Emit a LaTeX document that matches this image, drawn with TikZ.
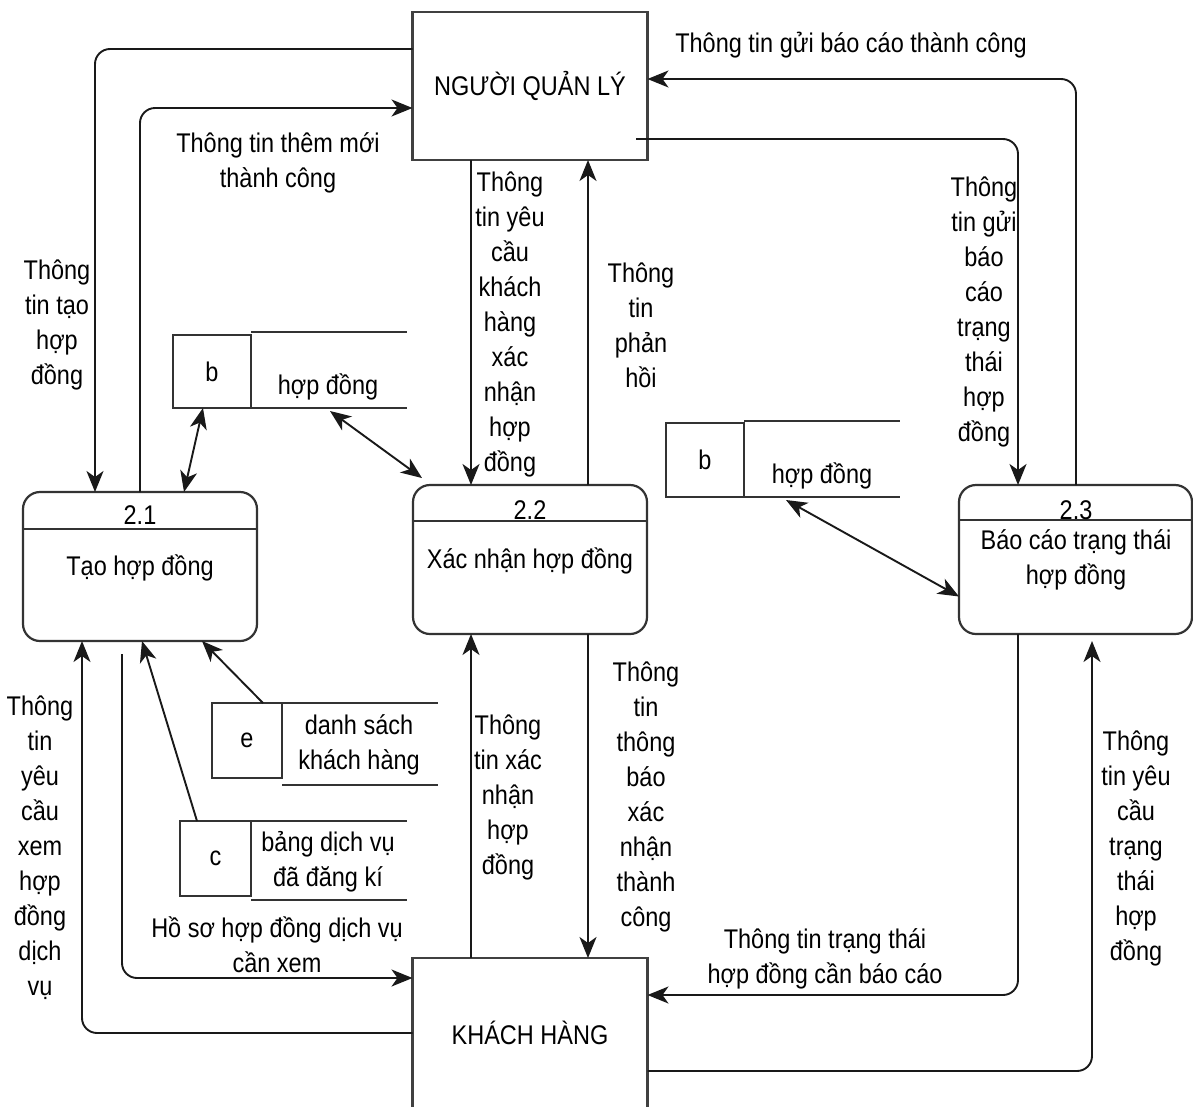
\documentclass[tikz,border=0pt]{standalone}
\usepackage{fontspec}
\setmainfont{Liberation Sans}[FakeStretch=0.87]
\usetikzlibrary{arrows.meta}
\begin{document}
\begin{tikzpicture}[x=1pt,y=-1pt,
  every node/.style={inner sep=0pt, outer sep=0pt, font=\fontsize{27}{35}\selectfont, text=black},
  entity/.style={draw=black!75, line width=2.2pt, minimum width=235pt, minimum height=148pt},
  procbox/.style={draw=black!80, line width=2.2pt, rounded corners=17pt, minimum width=234pt, minimum height=149pt},
  divider/.style={draw=black!80, line width=2.2pt},
  storekey/.style={draw=black!80, line width=2.2pt},
  storeline/.style={draw=black!80, line width=2.2pt},
  tip/.tip={Stealth[length=21pt,width=17pt,inset=6pt]},
  flow/.style={draw=black!90, line width=1.9pt, rounded corners=15pt, -tip},
  twoway/.style={draw=black!90, line width=1.9pt, tip-tip},
  lbl/.style={align=center},
]
\useasboundingbox[fill=white] (0,0) rectangle (1193,1106);

% external entities
\node[entity] (nql) at (530,86) {NGƯỜI QUẢN LÝ};
\node[entity, minimum height=150pt] (kh) at (530,1033) {KHÁCH HÀNG};

% processes
\node[procbox] (p21) at (140,566.5) {};
\draw[divider] ([yshift=-37pt]p21.north west) -- ([yshift=-37pt]p21.north east);
\node (n21) at (140,515) {2.1};
\node (t21) at (140,568) {Tạo hợp đồng};

\node[procbox] (p22) at (530,559.5) {};
\draw[divider] ([yshift=-36pt]p22.north west) -- ([yshift=-36pt]p22.north east);
\node (n22) at (530,510) {2.2};
\node (t22) at (530,561) {Xác nhận hợp đồng};

\node[procbox, minimum width=233pt] (p23) at (1075.5,559.5) {};
\draw[divider] ([yshift=-35pt]p23.north west) -- ([yshift=-35pt]p23.north east);
\node (n23) at (1076,510) {2.3};
\node[lbl] (t23) at (1076,560) {Báo cáo trạng thái\\hợp đồng};

% data stores
\node[storekey, minimum width=78pt, minimum height=73pt] (sb1) at (212,371.5) {b};
\draw[storeline] (251,332) -- (407,332);
\draw[storeline] (251,408) -- (407,408);
\node (sb1t) at (328,387) {hợp đồng};

\node[storekey, minimum width=78pt, minimum height=74pt] (sb2) at (705,460) {b};
\draw[storeline] (744,421) -- (900,421);
\draw[storeline] (744,497) -- (900,497);
\node (sb2t) at (822,476) {hợp đồng};

\node[storekey, minimum width=70pt, minimum height=75pt] (se) at (247,740.5) {e};
\draw[storeline] (282,703) -- (438,703);
\draw[storeline] (282,785) -- (438,785);
\node[lbl] (set) at (359,745) {danh sách\\khách hàng};

\node[storekey, minimum width=71pt, minimum height=75pt] (sc) at (215.5,858.5) {c};
\draw[storeline] (251,821) -- (407,821);
\draw[storeline] (251,900) -- (407,900);
\node[lbl] (sct) at (328,862) {bảng dịch vụ\\đã đăng kí};

% bend points
\coordinate (k1) at (95,49);
\coordinate (k2) at (140,108);
\coordinate (k3s) at (636,139);
\coordinate (k3) at (1018,139);
\coordinate (k4) at (1076,79);
\coordinate (k5) at (1018,995);
\coordinate (k6) at (1092,1071);
\coordinate (k6e) at (1092,641);
\coordinate (k7) at (471,0);
\coordinate (k8) at (588,0);
\coordinate (k11) at (82,1033);
\coordinate (k12s) at (122,654);
\coordinate (k12) at (122,978);
\coordinate (k16s) at (330,411);
\coordinate (k17s) at (786,500);

% data flows
\draw[flow] (nql.west |- k1) -- (k1) -- (k1 |- p21.north);
\draw[flow] (k2 |- p21.north) -- (k2) -- (k2 -| nql.west);
\draw[flow] (k3s) -- (k3) -- (k3 |- p23.north);
\draw[flow] (k4 |- p23.north) -- (k4) -- (k4 -| nql.east);
\draw[flow] (k5 |- p23.south) -- (k5) -- (k5 -| kh.east);
\draw[flow] (k6 -| kh.east) -- (k6) -- (k6e);
\draw[flow] (k7 |- nql.south) -- (k7 |- p22.north);
\draw[flow] (k8 |- p22.north) -- (k8 |- nql.south);
\draw[flow] (k7 |- kh.north) -- (k7 |- p22.south);
\draw[flow] (k8 |- p22.south) -- (k8 |- kh.north);
\draw[flow] (k11 -| kh.west) -- (k11) -- (k11 |- p21.south);
\draw[flow] (k12s) -- (k12) -- (k12 -| kh.west);
\draw[flow] ([xshift=17pt]sc.north west) -- ([xshift=119pt]p21.south west);
\draw[flow] ([xshift=51pt]se.north west) -- ([xshift=179pt]p21.south west);
\draw[twoway] ([xshift=30pt]sb1.south west) -- ([xshift=161pt]p21.north west);
\draw[twoway] (k16s) -- ([shift={(9pt,7pt)}]p22.north west);
\draw[twoway] (k17s) -- ([yshift=-37pt]p23.west);

% flow labels
\node[lbl] (l1) at (57,325) {Thông\\tin tạo\\hợp\\đồng};
\node[lbl] (l2) at (278,163) {Thông tin thêm mới\\thành công};
\node[lbl] (l3) at (851,45) {Thông tin gửi báo cáo thành công};
\node[lbl] (l4) at (984,312) {Thông\\tin gửi\\báo\\cáo\\trạng\\thái\\hợp\\đồng};
\node[lbl] (l5) at (510,324) {Thông\\tin yêu\\cầu\\khách\\hàng\\xác\\nhận\\hợp\\đồng};
\node[lbl] (l6) at (641,325) {Thông\\tin\\phản\\hồi};
\node[lbl] (l7) at (508,797) {Thông\\tin xác\\nhận\\hợp\\đồng};
\node[lbl] (l8) at (646,797) {Thông\\tin\\thông\\báo\\xác\\nhận\\thành\\công};
\node[lbl] (l9) at (825,959) {Thông tin trạng thái\\hợp đồng cần báo cáo};
\node[lbl] (l10) at (1136,848) {Thông\\tin yêu\\cầu\\trạng\\thái\\hợp\\đồng};
\node[lbl] (l11) at (40,848) {Thông\\tin\\yêu\\cầu\\xem\\hợp\\đồng\\dịch\\vụ};
\node[lbl] (l12) at (277,945) {Hồ sơ hợp đồng dịch vụ\\cần xem};
\end{tikzpicture}
\end{document}
